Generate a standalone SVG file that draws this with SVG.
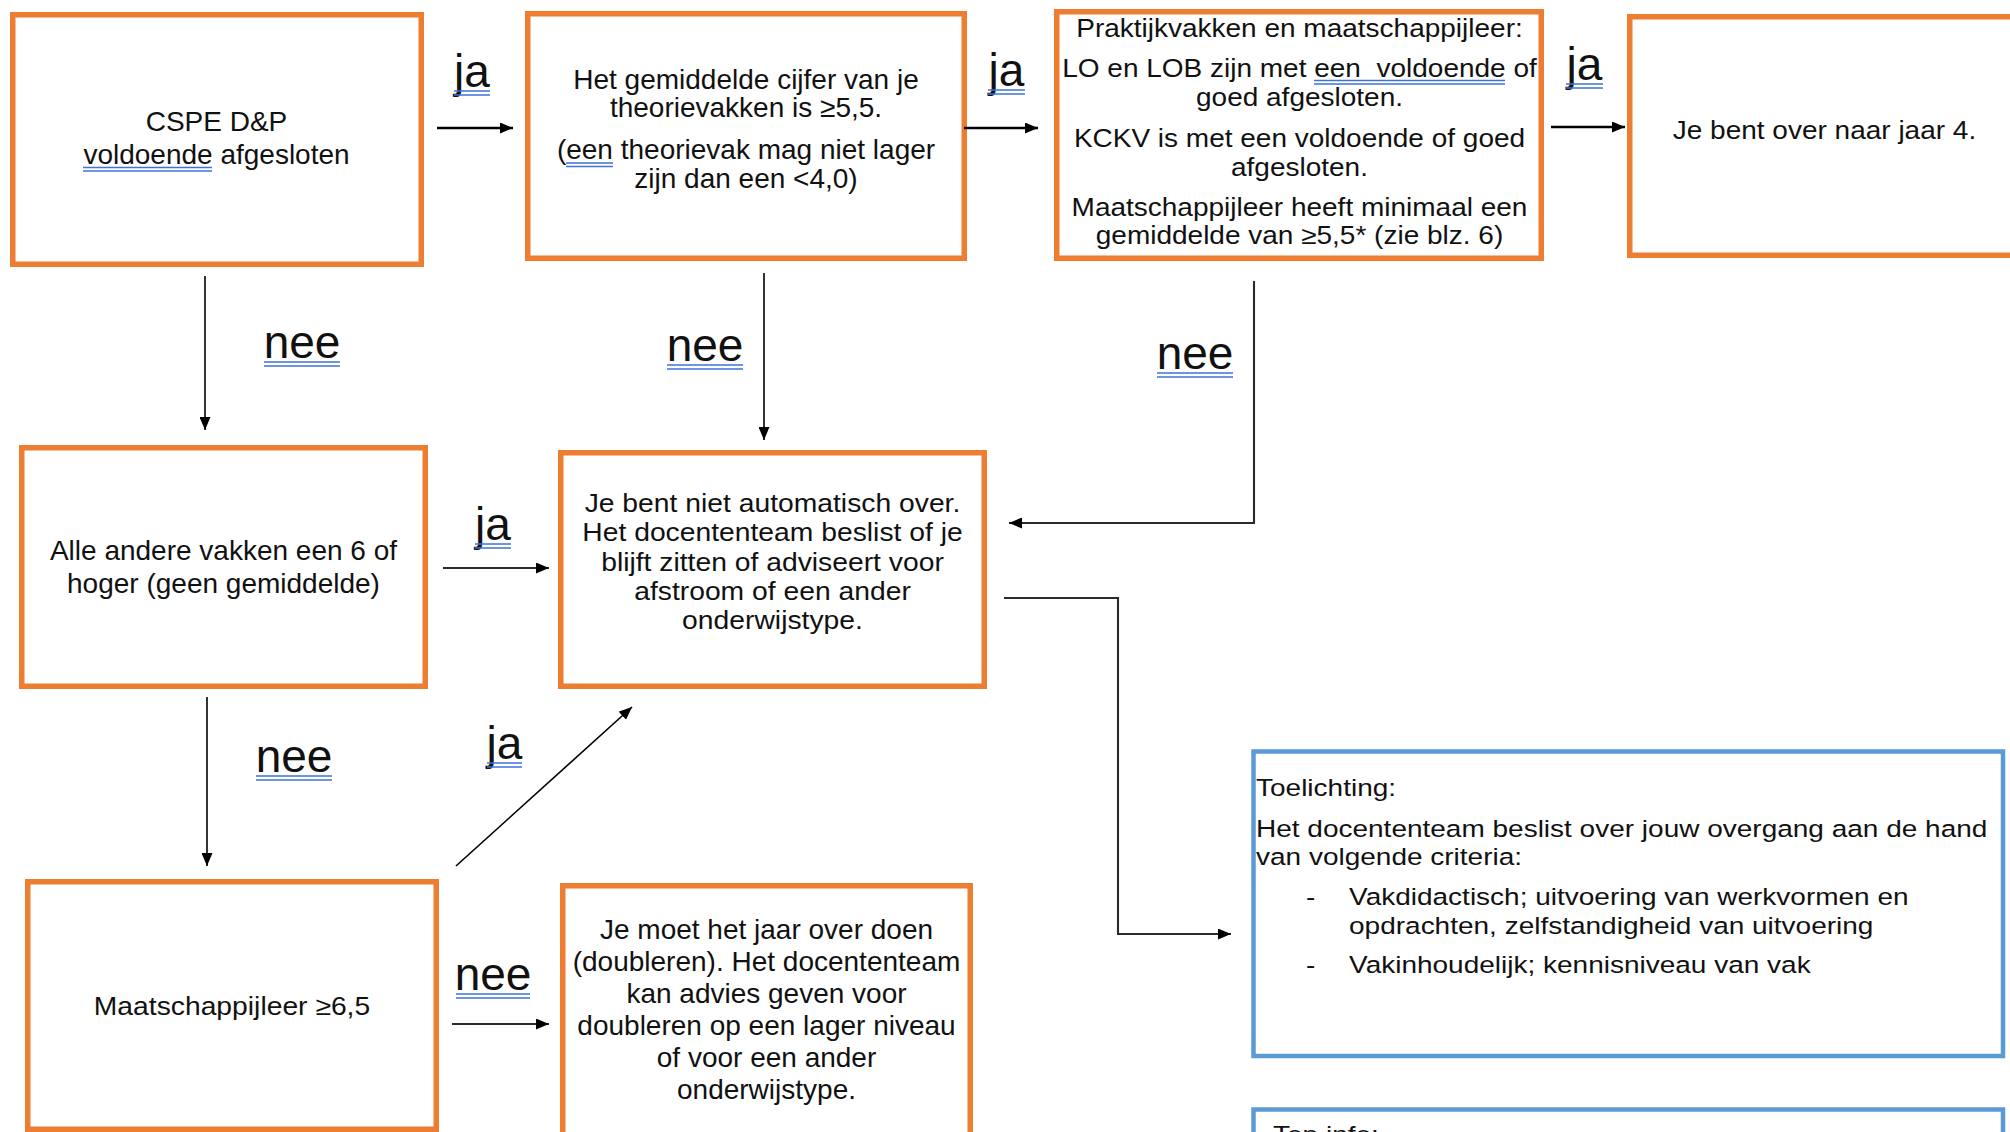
<svg xmlns="http://www.w3.org/2000/svg" width="2010" height="1132" viewBox="0 0 2010 1132">
<style>
.box{fill:#fff;stroke:#ED7D31;stroke-width:5.5}
.bbox{fill:#fff;stroke:#5B9BD5;stroke-width:4.5}
.t{font-family:"Liberation Sans",Arial,sans-serif;fill:#111}
.c{text-anchor:middle}
.f28{font-size:28px}
.f26{font-size:26px}
.f25{font-size:25px}
.f245{font-size:24.5px}
.lbl{font-family:"Liberation Sans",Arial,sans-serif;font-size:46px;fill:#111;text-anchor:middle}
.ul{stroke:#3F73D8;stroke-width:1.5;fill:none}
.ln{stroke:#000;fill:none}
.thick{stroke-width:2.6}
.thin{stroke-width:1.6}
.mid{stroke-width:2.1;stroke:#2a2a2a}
</style>
<defs>
<marker id="ah" viewBox="0 0 13 11" refX="13" refY="5.5" markerWidth="13" markerHeight="11" markerUnits="userSpaceOnUse" orient="auto">
<path d="M0,0 L13,5.5 L0,11 z" fill="#000"/>
</marker>
</defs>
<rect width="2010" height="1132" fill="#fff"/>

<g id="n-cspe">
<rect class="box" x="12.75" y="14.75" width="408.5" height="249.5"/>
<text class="t c f28" x="216.5" y="131">CSPE D&amp;P</text>
<text class="t c f28" x="216.5" y="164">voldoende afgesloten</text>
<path class="ul" d="M83,167.5 H212 M83,171 H212"/>
</g>

<g id="n-gemiddelde">
<rect class="box" x="527.75" y="13.75" width="436.5" height="244.5"/>
<text class="t c f28" x="746" y="88.5">Het gemiddelde cijfer van je</text>
<text class="t c f28" x="746" y="117">theorievakken is ≥5,5.</text>
<text class="t c f28" x="746" y="158.5">(een theorievak mag niet lager</text>
<text class="t c f28" x="746" y="187.5">zijn dan een &lt;4,0)</text>
<path class="ul" d="M566,163 H613 M566,166.5 H613"/>
</g>

<g id="n-praktijk">
<rect class="box" x="1056.75" y="11.75" width="484.5" height="246.5"/>
<g transform="matrix(1.12,0,0,1,-155.94,0)">
<text class="t c f25" x="1299.5" y="37">Praktijkvakken en maatschappijleer:</text>
<text class="t c f25" x="1299.5" y="77.5" xml:space="preserve">LO en LOB zijn met een  voldoende of</text>
<text class="t c f25" x="1299.5" y="106">goed afgesloten.</text>
<text class="t c f25" x="1299.5" y="147.5">KCKV is met een voldoende of goed</text>
<text class="t c f25" x="1299.5" y="176">afgesloten.</text>
<text class="t c f25" x="1299.5" y="216.5">Maatschappijleer heeft minimaal een</text>
<text class="t c f25" x="1299.5" y="244.5">gemiddelde van ≥5,5* (zie blz. 6)</text>
</g>
<path class="ul" d="M1314,80.5 H1505 M1314,84 H1505"/>
</g>

<g id="n-over">
<rect class="box" x="1629.75" y="16.75" width="400" height="238.5"/>
<g transform="matrix(1.12,0,0,1,-218.94,0)">
<text class="t c f25" x="1824.5" y="139">Je bent over naar jaar 4.</text>
</g>
</g>

<g id="n-alle">
<rect class="box" x="21.75" y="447.75" width="403.5" height="238.5"/>
<text class="t c f28" x="223.5" y="560">Alle andere vakken een 6 of</text>
<text class="t c f28" x="223.5" y="593">hoger (geen gemiddelde)</text>
</g>

<g id="n-niet-over">
<rect class="box" x="560.75" y="452.75" width="423.5" height="233.5"/>
<g transform="matrix(1.088,0,0,1,-67.98,0)">
<text class="t c f26" x="772.5" y="512">Je bent niet automatisch over.</text>
<text class="t c f26" x="772.5" y="541">Het docententeam beslist of je</text>
<text class="t c f26" x="772.5" y="571">blijft zitten of adviseert voor</text>
<text class="t c f26" x="772.5" y="600">afstroom of een ander</text>
<text class="t c f26" x="772.5" y="629">onderwijstype.</text>
</g>
</g>

<g id="n-maatschappij">
<rect class="box" x="27.75" y="881.75" width="408.5" height="247.5"/>
<g transform="matrix(1.088,0,0,1,-20.42,0)">
<text class="t c f26" x="232" y="1015">Maatschappijleer ≥6,5</text>
</g>
</g>

<g id="n-doubleren">
<rect class="box" x="562.75" y="885.75" width="407.5" height="300"/>
<text class="t c f28" x="766.5" y="938.5">Je moet het jaar over doen</text>
<text class="t c f28" x="766.5" y="970.5">(doubleren). Het docententeam</text>
<text class="t c f28" x="766.5" y="1002.5">kan advies geven voor</text>
<text class="t c f28" x="766.5" y="1034.5">doubleren op een lager niveau</text>
<text class="t c f28" x="766.5" y="1066.5">of voor een ander</text>
<text class="t c f28" x="766.5" y="1098.5">onderwijstype.</text>
</g>

<g id="n-toelichting">
<rect class="bbox" x="1253.5" y="751.5" width="749.5" height="304.5"/>
<g transform="matrix(1.143,0,0,1,-179.6,0)">
<text class="t f245" x="1256" y="796">Toelichting:</text>
<text class="t f245" x="1256" y="837">Het docententeam beslist over jouw overgang aan de hand</text>
<text class="t f245" x="1256" y="865">van volgende criteria:</text>
<text class="t f245" x="1299.7" y="905">-</text>
<text class="t f245" x="1337.4" y="905">Vakdidactisch; uitvoering van werkvormen en</text>
<text class="t f245" x="1337.4" y="934">opdrachten, zelfstandigheid van uitvoering</text>
<text class="t f245" x="1299.7" y="973">-</text>
<text class="t f245" x="1337.4" y="973">Vakinhoudelijk; kennisniveau van vak</text>
</g>
</g>

<g id="n-topinfo">
<rect class="bbox" x="1253.5" y="1109.5" width="749.5" height="60"/>
<g transform="matrix(1.143,0,0,1,-182,0)">
<text class="t f245" x="1273" y="1143">Top info:</text>
</g>
</g>

<g id="connectors">
<line class="ln thick" x1="437" y1="128" x2="513" y2="128" marker-end="url(#ah)"/>
<line class="ln thick" x1="964" y1="128" x2="1038" y2="128" marker-end="url(#ah)"/>
<line class="ln thick" x1="1551" y1="127" x2="1625" y2="127" marker-end="url(#ah)"/>
<line class="ln thin" x1="205" y1="276" x2="205" y2="430" marker-end="url(#ah)"/>
<line class="ln thin" x1="764" y1="273" x2="764" y2="440" marker-end="url(#ah)"/>
<polyline class="ln mid" points="1254,281 1254,523 1009,523" marker-end="url(#ah)"/>
<line class="ln mid" x1="443" y1="568" x2="549" y2="568" marker-end="url(#ah)"/>
<line class="ln thin" x1="207" y1="697" x2="207" y2="866" marker-end="url(#ah)"/>
<line class="ln thin" x1="456" y1="866" x2="632" y2="707" marker-end="url(#ah)"/>
<line class="ln mid" x1="452" y1="1024" x2="549" y2="1024" marker-end="url(#ah)"/>
<polyline class="ln mid" points="1004,598 1118,598 1118,934 1231,934" marker-end="url(#ah)"/>

<text class="lbl" x="472" y="87">ja</text>
<path class="ul" d="M454,91 H490 M454,95 H490"/>
<text class="lbl" x="1006.5" y="86">ja</text>
<path class="ul" d="M988,90 H1025 M988,94 H1025"/>
<text class="lbl" x="1584.5" y="80">ja</text>
<path class="ul" d="M1566,84 H1603 M1566,88 H1603"/>
<text class="lbl" x="302" y="358">nee</text>
<path class="ul" d="M264,362 H340 M264,366 H340"/>
<text class="lbl" x="705" y="361">nee</text>
<path class="ul" d="M667,365 H743 M667,369 H743"/>
<text class="lbl" x="1195" y="369">nee</text>
<path class="ul" d="M1157,373 H1233 M1157,377 H1233"/>
<text class="lbl" x="493" y="540">ja</text>
<path class="ul" d="M475,544 H511 M475,548 H511"/>
<text class="lbl" x="294" y="772">nee</text>
<path class="ul" d="M256,776 H332 M256,780 H332"/>
<text class="lbl" x="504.5" y="759">ja</text>
<path class="ul" d="M487,763 H522 M487,767 H522"/>
<text class="lbl" x="493" y="990">nee</text>
<path class="ul" d="M456,994 H530 M456,998 H530"/>
</g>
</svg>
